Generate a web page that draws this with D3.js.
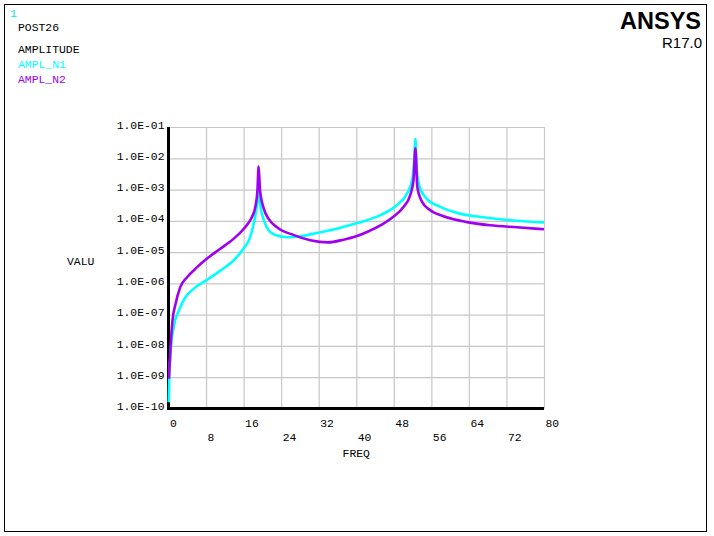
<!DOCTYPE html>
<html>
<head>
<meta charset="utf-8">
<script src="https://cdn.jsdelivr.net/npm/d3@7"></script>
<style>
  html, body { margin: 0; padding: 0; background: #fff; }
  svg { display: block; }
  text { font-family: "Liberation Mono", "DejaVu Sans Mono", monospace; }
</style>
</head>
<body>
<svg id="chart" width="714" height="536"></svg>
<script>
// ---- data ----
const freqN1 = [0.05, 0.15, 0.43, 1.1, 2.2, 3.6, 5.4, 8.2, 11.1, 13.9, 16.0, 17.4, 18.3, 18.9, 19.2, 19.6, 20.3, 21.3, 22.8, 25.3, 28.1, 31.6, 35.9, 39.5, 42.3, 45.8, 48.7, 50.8, 51.9, 52.3, 52.6, 52.9, 53.6, 55.0, 57.9, 62.1, 67.1, 72.8, 80];
const amplN1 = [1.6e-10, 7.9e-10, 5.6e-9, 4.0e-8, 1.35e-7, 3.6e-7, 6.8e-7, 1.3e-6, 2.6e-6, 5.5e-6, 1.3e-5, 3.0e-5, 1.05e-4, 3.5e-4, 8.5e-4, 2.8e-4, 1.05e-4, 5.0e-5, 3.5e-5, 3.0e-5, 3.2e-5, 4.1e-5, 5.6e-5, 7.9e-5, 1.05e-4, 1.7e-4, 3.2e-4, 7.4e-4, 2.0e-3, 6.9e-3, 4.1e-2, 4.2e-3, 1.1e-3, 5.1e-4, 2.8e-4, 1.7e-4, 1.3e-4, 1.05e-4, 8.9e-5];

const freqN2 = [0.1, 0.43, 0.85, 1.5, 2.5, 4.0, 6.1, 8.2, 11.1, 13.9, 16.4, 17.8, 18.5, 18.95, 19.2, 19.5, 20.3, 21.3, 23.1, 26.7, 30.2, 34.0, 37.3, 40.0, 42.3, 45.8, 47.9, 50.1, 51.5, 52.2, 52.6, 53.0, 54.0, 55.7, 58.6, 63.6, 68.5, 74.2, 80];
const amplN2 = [8.9e-10, 9.1e-9, 6.5e-8, 2.2e-7, 7.6e-7, 1.6e-6, 3.3e-6, 6.2e-6, 1.3e-5, 2.7e-5, 6.5e-5, 1.35e-4, 2.8e-4, 9.5e-4, 5.4e-3, 9.5e-4, 2.45e-4, 1.17e-4, 6.2e-5, 3.5e-5, 2.4e-5, 2.05e-5, 2.5e-5, 3.2e-5, 4.4e-5, 8.1e-5, 1.35e-4, 2.8e-4, 6.6e-4, 2.0e-3, 2.1e-2, 1.23e-3, 4.1e-4, 2.2e-4, 1.4e-4, 9.1e-5, 7.2e-5, 6.2e-5, 5.4e-5];

const xTicks = [0, 8, 16, 24, 32, 40, 48, 56, 64, 72, 80];
const yTicks = [1e-10, 1e-9, 1e-8, 1e-7, 1e-6, 1e-5, 1e-4, 1e-3, 1e-2, 1e-1];
const yTickLabels = ["1.0E-10", "1.0E-09", "1.0E-08", "1.0E-07", "1.0E-06", "1.0E-05", "1.0E-04", "1.0E-03", "1.0E-02", "1.0E-01"];
const headerLines = ["POST26", "AMPLITUDE", "AMPL_N1", "AMPL_N2"];
const seriesNames = ["AMPL_N1", "AMPL_N2"];
const seriesColors = ["#00ffff", "#a000f0"];

// ---- layout ----
const L = 168.5, R = 544, T = 127, B = 408.5;
const svg = d3.select("#chart");

// frame
svg.append("rect").attr("x", 4.5).attr("y", 4.5).attr("width", 702).attr("height", 527)
  .attr("fill", "none").attr("stroke", "#000").attr("stroke-width", 1);

// header texts
svg.append("text").attr("x", 10).attr("y", 17).attr("fill", "#00e8f0")
  .attr("font-size", 11.5).text("1");
const hdr = [[headerLines[0], 31, "#000"], [headerLines[1], 53, "#000"],
             [headerLines[2], 68, seriesColors[0]], [headerLines[3], 83, seriesColors[1]]];
hdr.forEach(([t, y, c]) => {
  svg.append("text").attr("x", 18).attr("y", y).attr("fill", c)
    .attr("font-size", 11.4).text(t);
});

// ANSYS logo
svg.append("text").attr("x", 701).attr("y", 29).attr("text-anchor", "end")
  .attr("font-weight", "bold")
  .attr("font-size", 23.5).style("font-family", "'Liberation Sans', Arial, sans-serif")
  .text("ANSYS");
svg.append("text").attr("x", 702).attr("y", 48).attr("text-anchor", "end")
  .style("font-family", "'Liberation Sans', Arial, sans-serif")
  .attr("font-size", 15).text("R17.0");

// scales
const x = d3.scaleLinear().domain([0, 80]).range([L, R]);
const y = d3.scaleLog().domain([1e-10, 1e-1]).range([B, T]);

// grid + x labels
const gx = svg.append("g").attr("transform", `translate(0,${B})`)
  .call(d3.axisBottom(x).tickValues(xTicks).tickSize(-(B - T)).tickFormat(d => d));
gx.select(".domain").remove();
gx.selectAll(".tick line").attr("stroke", "#c8c8c8").attr("stroke-width", 1.2);
gx.selectAll(".tick text")
  .attr("text-anchor", "start")
  .attr("x", 1)
  .attr("y", (d, i) => (i % 2 === 0 ? 18 : 32))
  .attr("dy", 0)
  .attr("fill", "#000")
  .attr("font-size", 11.4)
  .style("font-family", "'Liberation Mono', monospace");

const gy = svg.append("g").attr("transform", `translate(${L},0)`)
  .call(d3.axisLeft(y).tickValues(yTicks).tickSize(-(R - L)).tickFormat((d, i) => yTickLabels[i]));
gy.select(".domain").remove();
gy.selectAll(".tick line").attr("stroke", "#c8c8c8").attr("stroke-width", 1.2);
gy.selectAll(".tick text")
  .attr("x", -4)
  .attr("dy", "0.1em")
  .attr("fill", "#000")
  .attr("font-size", 11.4)
  .style("font-family", "'Liberation Mono', monospace");
gy.attr("font-family", null); gx.attr("font-family", null);

// axis titles
svg.append("text").attr("x", (L + R) / 2).attr("y", 457).attr("text-anchor", "middle")
  .attr("font-size", 11.4).text("FREQ");
svg.append("text").attr("x", 67).attr("y", 265)
  .attr("font-size", 11.4).text("VALU");

// heavy axes
svg.append("line").attr("x1", L).attr("x2", L).attr("y1", T).attr("y2", B + 1.5)
  .attr("stroke", "#000").attr("stroke-width", 3);
svg.append("line").attr("x1", L - 1.5).attr("x2", R).attr("y1", B).attr("y2", B)
  .attr("stroke", "#000").attr("stroke-width", 3);

// curves
const gen = d3.line().x(d => x(d[0])).y(d => y(d[1])).curve(d3.curveMonotoneX);
const series = [
  d3.zip(freqN1, amplN1),
  d3.zip(freqN2, amplN2)
];
series.forEach((s, i) => {
  svg.append("path").datum(s).attr("d", gen)
    .attr("fill", "none").attr("stroke", seriesColors[i]).attr("stroke-width", 2.6)
    .attr("stroke-linejoin", "miter").attr("stroke-miterlimit", 20)
    .attr("data-name", seriesNames[i]);
});
</script>
</body>
</html>
